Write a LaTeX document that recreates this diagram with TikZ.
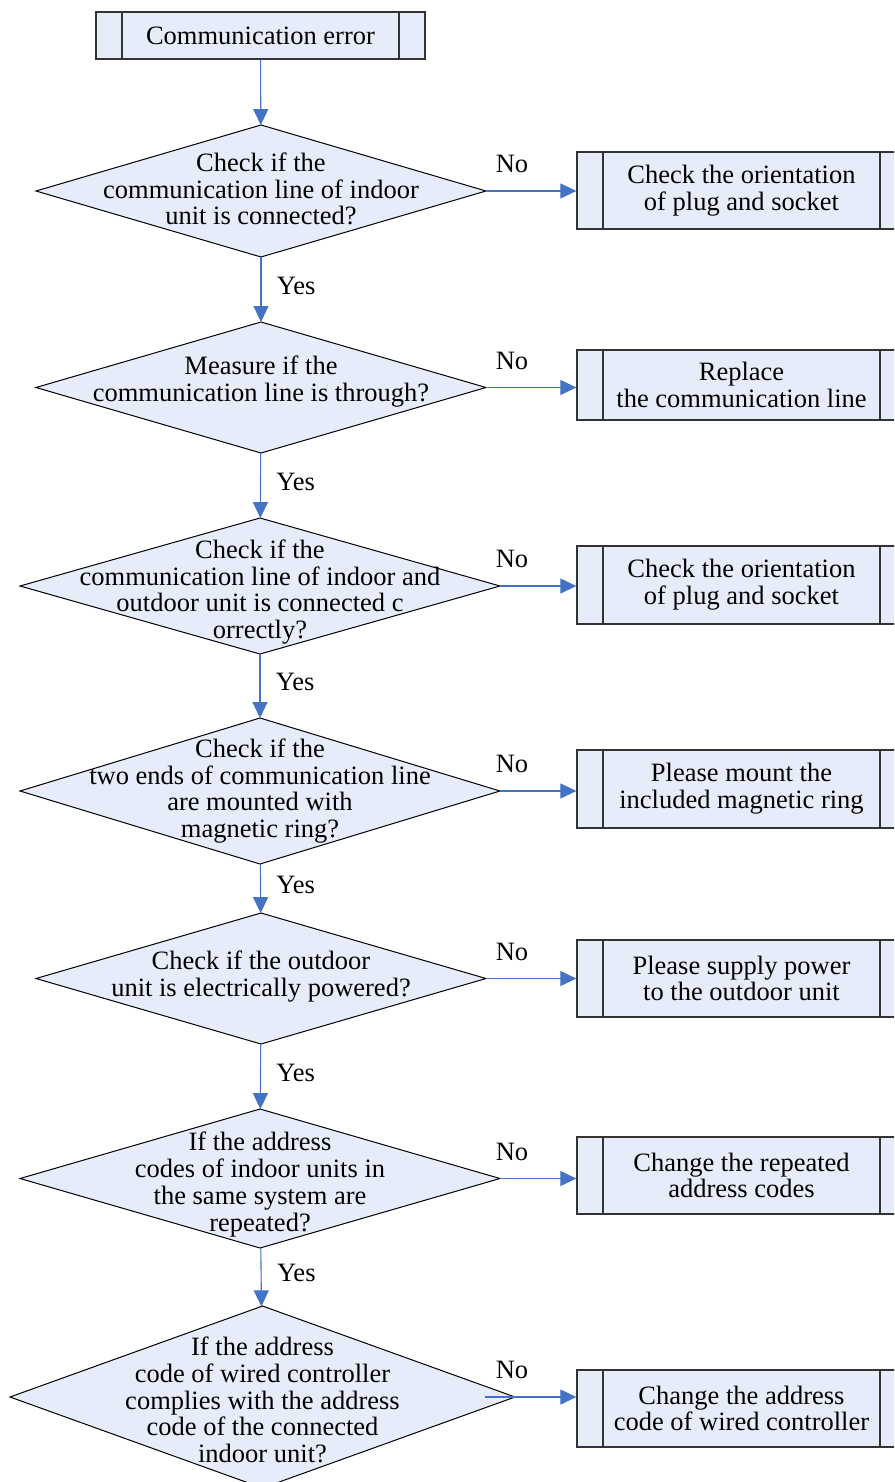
\documentclass[tikz,border=0pt]{standalone}
\usepackage{fontspec}
\setmainfont{Liberation Serif}
\usetikzlibrary{shapes.geometric,arrows.meta}
\definecolor{boxfill}{RGB}{231,236,250}
\definecolor{flowblue}{RGB}{68,114,196}
\begin{document}
\begin{tikzpicture}[x=1pt, y=-1pt,
    every node/.style={font=\fontsize{26.5}{26.8}\selectfont},
    procbox/.style={rectangle, draw=black!80, line width=1.3pt, fill=boxfill,
      minimum width=329pt, inner sep=0pt, align=center,
      path picture={\draw[black!80, line width=1.3pt]
        ([xshift=26pt]path picture bounding box.north west) -- ([xshift=26pt]path picture bounding box.south west)
        ([xshift=-26pt]path picture bounding box.north east) -- ([xshift=-26pt]path picture bounding box.south east);}},
    decision/.style={diamond, draw=black, line width=1pt, fill=boxfill, inner sep=0pt, outer sep=0pt},
    flow/.style={-{Triangle[length=16pt,width=15pt]}, flowblue, line width=1.1pt},
    yeslbl/.style={midway, right=12pt, yshift=4pt, text=black},
    nolbl/.style={above=14pt, text=black}]
\useasboundingbox (0,0) rectangle (894,1482);
\clip (0,0) rectangle (894,1482);
\node[procbox, minimum height=47pt] (start) at (260.5,35.5) {Communication error};
\node[decision, minimum width=450pt, minimum height=132pt,
  label={[align=center, yshift=2pt]center:{Check if the\\communication line of indoor\\unit is connected?}}] (d1) at (261,191) {};
\node[decision, minimum width=450pt, minimum height=131pt,
  label={[align=center, yshift=6pt]center:{Measure if the\\communication line is through?}}] (d2) at (261,387.5) {};
\node[decision, minimum width=480pt, minimum height=136pt,
  label={[align=center, yshift=-6pt]center:{Check if the\\communication line of indoor and\\outdoor unit is connected c\\orrectly?}}] (d3) at (260,586) {};
\node[decision, minimum width=480pt, minimum height=146pt,
  label={[align=center]center:{Check if the\\two ends of communication line\\are mounted with\\magnetic ring?}}] (d4) at (260,791) {};
\node[decision, minimum width=450pt, minimum height=131pt,
  label={[align=center, yshift=2pt]center:{Check if the outdoor\\unit is electrically powered?}}] (d5) at (261,978.5) {};
\node[decision, minimum width=480pt, minimum height=139pt,
  label={[align=center, yshift=-6pt]center:{If the address\\codes of indoor units in\\the same system are\\repeated?}}] (d6) at (260,1178.5) {};
\node[decision, minimum width=505pt, minimum height=182pt,
  label={[align=center, yshift=-3pt]center:{If the address\\code of wired controller\\complies with the address\\code of the connected\\indoor unit?}}] (d7) at (262.5,1397) {};
\node[procbox, minimum height=77pt] (b1) at (741.5,190.5) {Check the orientation\\of plug and socket};
\node[procbox, minimum height=70pt] (b2) at (741.5,385) {Replace\\the communication line};
\node[procbox, minimum height=78pt] (b3) at (741.5,585) {Check the orientation\\of plug and socket};
\node[procbox, minimum height=78pt] (b4) at (741.5,789) {Please mount the\\included magnetic ring};
\node[procbox, minimum height=77pt] (b5) at (741.5,978.5) {Please supply power\\to the outdoor unit};
\node[procbox, minimum height=77pt] (b6) at (741.5,1175.5) {Change the repeated\\address codes};
\node[procbox, minimum height=77pt] (b7) at (741.5,1408.5) {Change the address\\code of wired controller};
\coordinate (nox) at (512,0);
\draw[flow] (start) -- (d1);
\draw[flow] (d1) -- node[yeslbl]{Yes} (d2);
\draw[flow] (d2) -- node[yeslbl]{Yes} (d3);
\draw[flow] (d3) -- node[yeslbl]{Yes} (d4);
\draw[flow] (d4) -- node[yeslbl]{Yes} (d5);
\draw[flow] (d5) -- node[yeslbl]{Yes} (d6);
\draw[flow] (d6) -- node[yeslbl]{Yes} (d7);
\foreach \i in {1,...,6}
  \draw[flow] (d\i.east) -- (d\i.east -| b\i.west) node[nolbl] at (d\i.east -| nox) {No};
\draw[flow] ([xshift=-30pt]d7.east) -- (d7.east -| b7.west) node[nolbl] at (d7.east -| nox) {No};
\end{tikzpicture}
\end{document}
